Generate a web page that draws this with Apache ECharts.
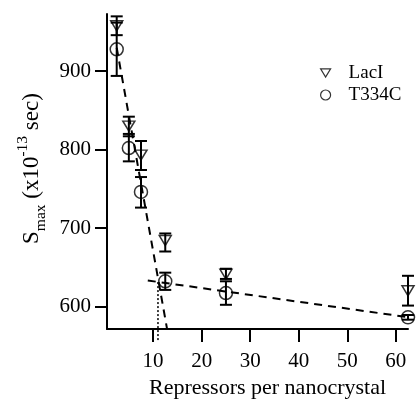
<!DOCTYPE html>
<html>
<head>
<meta charset="utf-8">
<script src="https://cdn.jsdelivr.net/npm/echarts@6/dist/echarts.min.js"></script>
<style>
html,body{margin:0;padding:0;background:#fff;}
#chart{width:417px;height:404px;}
</style>
</head>
<body>
<div id="chart"></div>
<script>
// ---- data ----
const xValues = [2.5, 5, 7.5, 12.5, 25, 62.5];
const laciY    = [958, 830, 793, 684, 641, 620];
const laciLow  = [946, 817, 774, 670, 635, 601];
const laciHigh = [970, 842, 811, 693, 648, 639];
const t334cY    = [928, 802, 746, 632, 617, 586];
const t334cLow  = [894, 785, 726, 621, 602, 583];
const t334cHigh = [962, 820, 765, 643, 632, 589];
const fit1X = [2.5, 12.85];
const fit1Y = [930, 572];
const fit2X = [8.9, 63.9];
const fit2Y = [633, 585];
const dropX = [11, 11];
const dropY = [631, 555];
const xTicks = [10, 20, 30, 40, 50, 60];
const yTicks = [600, 700, 800, 900];
const seriesNames = ['LacI', 'T334C'];

const FONT = '"Liberation Serif", "Times New Roman", serif';
const zip = (a, b) => a.map((v, i) => [v, b[i]]);
const errData = (low, high) => xValues.map((x, i) => [x, low[i], high[i]]);

function errRender(params, api) {
  const x = api.value(0);
  const lo = api.coord([x, api.value(1)]);
  const hi = api.coord([x, api.value(2)]);
  const w = 6;
  const st = {stroke: '#000', lineWidth: 2};
  return {
    type: 'group',
    children: [
      {type: 'line', shape: {x1: lo[0], y1: lo[1], x2: hi[0], y2: hi[1]}, style: st},
      {type: 'line', shape: {x1: lo[0] - w, y1: lo[1], x2: lo[0] + w, y2: lo[1]}, style: st},
      {type: 'line', shape: {x1: hi[0] - w, y1: hi[1], x2: hi[0] + w, y2: hi[1]}, style: st}
    ]
  };
}

const hollow = {color: 'rgba(0,0,0,0)', borderColor: '#000', borderWidth: 1.5};
const triDown = 'path://M0,0L12,0L6,10Z';

const chart = echarts.init(document.getElementById('chart'), null, {renderer: 'canvas'});
chart.setOption({
  animation: false,
  backgroundColor: '#fff',
  grid: {left: 107, right: 9, top: 14, bottom: 70, containLabel: false},
  legend: {
    data: seriesNames,
    orient: 'vertical',
    left: 315, top: 58,
    itemWidth: 10, itemHeight: 10, itemGap: 2,
    itemStyle: {borderWidth: 1.2},
    textStyle: {fontFamily: FONT, fontSize: 19, color: '#000', padding: [0, 0, 0, 13], lineHeight: 20}
  },
  xAxis: {
    type: 'value', min: 0.5, max: 62.5,
    name: 'Repressors per nanocrystal',
    nameLocation: 'middle', nameGap: 39,
    nameTextStyle: {fontFamily: FONT, fontSize: 22, color: '#000', padding: [0, 0, 0, 20]},
    axisLine: {show: true, onZero: false, lineStyle: {color: '#000', width: 2}},
    axisTick: {show: true, inside: false, length: 13, lineStyle: {color: '#000', width: 2}, customValues: xTicks},
    axisLabel: {fontFamily: FONT, fontSize: 21, color: '#000', margin: 22, customValues: xTicks},
    splitLine: {show: false}
  },
  yAxis: {
    type: 'value', min: 571, max: 973,
    name: '{m|S}{sub|max}{m| (x10}{sup|-13}{m| sec)}',
    nameLocation: 'middle', nameRotate: 90, nameGap: 58,
    nameTextStyle: {
      fontFamily: FONT, color: '#000', padding: [0, 0, 0, 6],
      rich: {
        m: {fontFamily: FONT, fontSize: 23, lineHeight: 34, color: '#000'},
        sub: {fontFamily: FONT, fontSize: 15.5, lineHeight: 18, verticalAlign: 'bottom', color: '#000'},
        sup: {fontFamily: FONT, fontSize: 15.5, lineHeight: 15, verticalAlign: 'top', color: '#000'}
      }
    },
    axisLine: {show: true, onZero: false, lineStyle: {color: '#000', width: 2}},
    axisTick: {show: true, inside: false, length: 12, lineStyle: {color: '#000', width: 2}, customValues: yTicks},
    axisLabel: {fontFamily: FONT, fontSize: 21, color: '#000', margin: 16, customValues: yTicks},
    splitLine: {show: false}
  },
  series: [
    {
      name: 'fit1', type: 'line', data: zip(fit1X, fit1Y), symbol: 'none', clip: false,
      lineStyle: {color: '#000', width: 2, type: [8, 6]}, silent: true, z: 1
    },
    {
      name: 'fit2', type: 'line', data: zip(fit2X, fit2Y), symbol: 'none', clip: false,
      lineStyle: {color: '#000', width: 2, type: [8, 6]}, silent: true, z: 1
    },
    {
      name: 'drop', type: 'line', data: zip(dropX, dropY), symbol: 'none', clip: false,
      lineStyle: {color: '#000', width: 1.5, type: [2, 2]}, silent: true, z: 1
    },
    {
      name: 'laciErr', type: 'custom', data: errData(laciLow, laciHigh),
      renderItem: errRender, clip: false, z: 2, encode: {x: 0, y: [1, 2]}
    },
    {
      name: 't334cErr', type: 'custom', data: errData(t334cLow, t334cHigh),
      renderItem: errRender, clip: false, z: 2, encode: {x: 0, y: [1, 2]}
    },
    {
      name: 'LacI', type: 'scatter', data: zip(xValues, laciY), symbol: triDown,
      symbolSize: [12, 10], itemStyle: hollow, clip: false, z: 3
    },
    {
      name: 'T334C', type: 'scatter', data: zip(xValues, t334cY), symbol: 'circle',
      symbolSize: 13, itemStyle: hollow, clip: false, z: 3
    }
  ]
});
</script>
</body>
</html>
